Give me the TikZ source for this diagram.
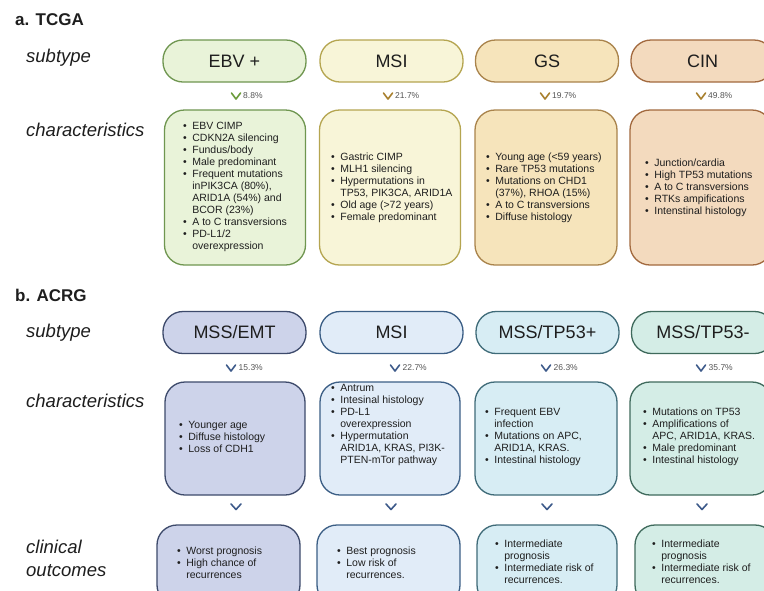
\documentclass[tikz,border=0pt]{standalone}
\usepackage{fontspec}
\setmainfont{Liberation Sans}
\definecolor{txt}{HTML}{1E1E1E}
\definecolor{pcttxt}{HTML}{555555}
\definecolor{ebvF}{HTML}{E9F3D9}\definecolor{ebvD}{HTML}{6F9650}
\definecolor{msiaF}{HTML}{F8F5D8}\definecolor{msiaD}{HTML}{B5A550}
\definecolor{gsF}{HTML}{F6E4BB}\definecolor{gsD}{HTML}{A9834B}
\definecolor{cinF}{HTML}{F3DABE}\definecolor{cinD}{HTML}{A2693E}
\definecolor{emtF}{HTML}{CDD3EA}\definecolor{emtD}{HTML}{3D4A6B}
\definecolor{msibF}{HTML}{E1ECF8}\definecolor{msibD}{HTML}{3B5E85}
\definecolor{tppF}{HTML}{D7EDF4}\definecolor{tppD}{HTML}{3F6B78}
\definecolor{tpmF}{HTML}{D4EDE6}\definecolor{tpmD}{HTML}{3F6A5C}
\definecolor{chevG}{HTML}{6B9B3A}
\definecolor{chevY}{HTML}{A8802E}
\definecolor{chevB}{HTML}{3D5A8A}
\newcommand\blist[1]{\begin{tabular}{@{}l@{\hspace{5.5pt}}l@{}}#1\end{tabular}}
\newcommand\bu{\textbullet}
\begin{document}
\begin{tikzpicture}[x=1pt,y=-1pt]
\tikzset{
 pill/.style 2 args={draw=#1, fill=#2, line width=1.3pt, rounded corners=20pt,
   minimum width=143pt, minimum height=42pt, inner sep=0pt, text=txt,
   font=\fontsize{18}{21}\selectfont},
 cbox/.style 2 args={draw=#1, fill=#2, line width=1.3pt, rounded corners=20pt, inner sep=0pt},
 lst/.style={font=\fontsize{10.5}{12}\selectfont, text=txt, align=left, inner sep=0pt, anchor=west},
 pct/.style={font=\fontsize{8.5}{10}\selectfont, text=pcttxt, anchor=west, inner sep=0pt},
 lbl/.style={font=\fontsize{18.5}{23}\selectfont\itshape, text=txt, anchor=west, align=left, inner sep=0pt},
 hdr/.style={font=\bfseries\fontsize{17}{20}\selectfont, text=txt, anchor=west, inner sep=0pt},
 chev/.style={line width=1.6pt, line cap=round, line join=round},
}
\useasboundingbox (0,0) rectangle (764,590);
\clip (0,0) rectangle (764,590);
\fill[white] (0,0) rectangle (764,590);

% ---------- a. TCGA ----------
\node[hdr] (ha) at (15,20) {a. TCGA};
\node[lbl] (sa) at (26,58) {subtype};
\node[lbl] (ca) at (26,130) {characteristics};

\node[pill={ebvD}{ebvF}] (s1) at (234.5,61) {EBV +};
\node[pill={msiaD}{msiaF}] (s2) at (391.5,61) {MSI};
\node[pill={gsD}{gsF}] (s3) at (547,61) {GS};
\node[pill={cinD}{cinF}] (s4) at (702.5,61) {CIN};

\foreach \cx/\p/\c in {236/8.8\%/chevG, 388/21.7\%/chevY, 545/19.7\%/chevY, 701/49.8\%/chevY}{
  \draw[chev, \c] (\cx-4.5,93) -- (\cx,99) -- (\cx+4.5,93);
  \node[pct] at (\cx+7,96) {\p};
}

\node[cbox={ebvD}{ebvF}, minimum width=141pt, minimum height=155pt] (c1) at (235,187.5) {};
\node[cbox={msiaD}{msiaF}, minimum width=141pt, minimum height=155pt] (c2) at (390,187.5) {};
\node[cbox={gsD}{gsF}, minimum width=142pt, minimum height=155pt] (c3) at (546,187.5) {};
\node[cbox={cinD}{cinF}, minimum width=142pt, minimum height=155pt] (c4) at (701,187.5) {};

\node[lst] (l1) at (183,187.5) {\blist{
 \bu & EBV CIMP\\
 \bu & CDKN2A silencing\\
 \bu & Fundus/body\\
 \bu & Male predominant\\
 \bu & Frequent mutations\\
     & inPIK3CA (80\%),\\
     & ARID1A (54\%) and\\
     & BCOR (23\%)\\
 \bu & A to C transversions\\
 \bu & PD-L1/2\\
     & overexpression}};
\node[lst] (l2) at (331,188) {\blist{
 \bu & Gastric CIMP\\
 \bu & MLH1 silencing\\
 \bu & Hypermutations in\\
     & TP53, PIK3CA, ARID1A\\
 \bu & Old age (>72 years)\\
 \bu & Female predominant}};
\node[lst] (l3) at (486,188.5) {\blist{
 \bu & Young age (<59 years)\\
 \bu & Rare TP53 mutations\\
 \bu & Mutations on CHD1\\
     & (37\%), RHOA (15\%)\\
 \bu & A to C transversions\\
 \bu & Diffuse histology}};
\node[lst] (l4) at (645,188) {\blist{
 \bu & Junction/cardia\\
 \bu & High TP53 mutations\\
 \bu & A to C transversions\\
 \bu & RTKs ampifications\\
 \bu & Intenstinal histology}};

% ---------- b. ACRG ----------
\node[hdr] (hb) at (15,295) {b. ACRG};
\node[lbl] (sb) at (26,333) {subtype};
\node[lbl] (cb) at (26,401) {characteristics};
\node[lbl] (ob) at (26,558) {clinical\\outcomes};

\node[pill={emtD}{emtF}] (t1) at (234.5,332.5) {MSS/EMT};
\node[pill={msibD}{msibF}] (t2) at (391.5,332.5) {MSI};
\node[pill={tppD}{tppF}] (t3) at (547.5,332.5) {MSS/TP53+};
\node[pill={tpmD}{tpmF}] (t4) at (703,332.5) {MSS/TP53-};

\foreach \cx/\p in {231/15.3\%, 395/22.7\%, 546/26.3\%, 701/35.7\%}{
  \draw[chev, chevB] (\cx-4.5,365) -- (\cx,371) -- (\cx+4.5,365);
  \node[pct] at (\cx+7.5,368) {\p};
}

\node[cbox={emtD}{emtF}, minimum width=140pt, minimum height=113pt] (d1) at (235,438.5) {};
\node[cbox={msibD}{msibF}, minimum width=140pt, minimum height=113pt] (d2) at (390,438.5) {};
\node[cbox={tppD}{tppF}, minimum width=142pt, minimum height=113pt] (d3) at (546,438.5) {};
\node[cbox={tpmD}{tpmF}, minimum width=142pt, minimum height=113pt] (d4) at (701,438.5) {};

\node[lst] (m1) at (179,438) {\blist{
 \bu & Younger age\\
 \bu & Diffuse histology\\
 \bu & Loss of CDH1}};
\node[lst] (m2) at (331,425) {\blist{
 \bu & Antrum\\
 \bu & Intesinal histology\\
 \bu & PD-L1\\
     & overexpression\\
 \bu & Hypermutation\\
     & ARID1A, KRAS, PI3K-\\
     & PTEN-mTor pathway}};
\node[lst] (m3) at (485,437) {\blist{
 \bu & Frequent EBV\\
     & infection\\
 \bu & Mutations on APC,\\
     & ARID1A, KRAS.\\
 \bu & Intestinal histology}};
\node[lst] (m4) at (643,437) {\blist{
 \bu & Mutations on TP53\\
 \bu & Amplifications of\\
     & APC, ARID1A, KRAS.\\
 \bu & Male predominant\\
 \bu & Intestinal histology}};

\foreach \cx in {236,391,547,702}{
  \draw[chev, chevB] (\cx-5,504) -- (\cx,509.5) -- (\cx+5,504);
}

\node[cbox={emtD}{emtF}, minimum width=143pt, minimum height=80pt] (e1) at (228.5,565) {};
\node[cbox={msibD}{msibF}, minimum width=143pt, minimum height=80pt] (e2) at (388.5,565) {};
\node[cbox={tppD}{tppF}, minimum width=140pt, minimum height=80pt] (e3) at (547,565) {};
\node[cbox={tpmD}{tpmF}, minimum width=140pt, minimum height=80pt] (e4) at (705,565) {};

\node[lst] (n1) at (177,564) {\blist{
 \bu & Worst prognosis\\
 \bu & High chance of\\
     & recurrences}};
\node[lst] (n2) at (337,564) {\blist{
 \bu & Best prognosis\\
 \bu & Low risk of\\
     & recurrences.}};
\node[lst] (n3) at (495,563) {\blist{
 \bu & Intermediate\\
     & prognosis\\
 \bu & Intermediate risk of\\
     & recurrences.}};
\node[lst] (n4) at (652,563) {\blist{
 \bu & Intermediate\\
     & prognosis\\
 \bu & Intermediate risk of\\
     & recurrences.}};
\end{tikzpicture}
\end{document}
